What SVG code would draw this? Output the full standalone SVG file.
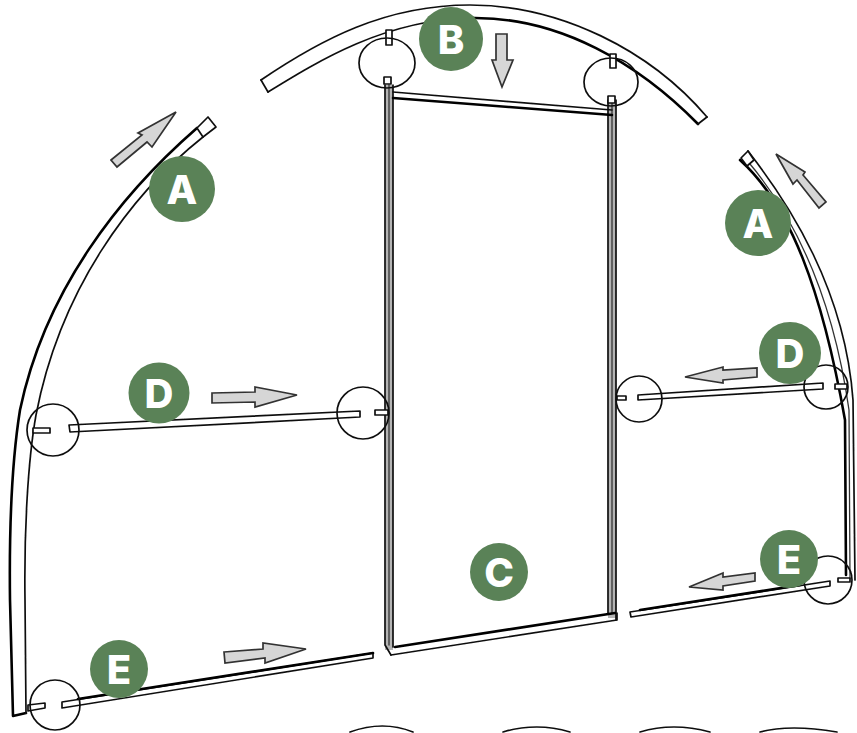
<svg xmlns="http://www.w3.org/2000/svg" width="857" height="733" viewBox="0 0 857 733">
<defs><filter id="soft" x="-5%" y="-5%" width="110%" height="110%"><feGaussianBlur stdDeviation="0.55"/></filter></defs>
<style>
.l{fill:none;stroke:#111;stroke-width:1.7;stroke-linecap:round;stroke-linejoin:round}
.t{fill:none;stroke:#000;stroke-width:2.6;stroke-linecap:round;stroke-linejoin:round}
.f{fill:none;stroke:#333;stroke-width:1.3;stroke-linecap:round}
.c{fill:none;stroke:#111;stroke-width:1.7}
.s{fill:#fff;stroke:#111;stroke-width:1.7;stroke-linejoin:round}
.a{fill:#d6d6d6;stroke:#333;stroke-width:1.7;stroke-linejoin:miter}
.b{fill:#5a8257}
.x{fill:#fff;font-family:Inter,"Open Sans","Liberation Sans",sans-serif;font-weight:800;font-size:40px;text-anchor:middle}
</style>
<rect width="857" height="733" fill="#fff"/>
<g id="frame" filter="url(#soft)">
<g id="arch-left">
<path class="t" d="M197,128C120,195 45,290 20,410C12,460 9,520 10,600L13,716L26,713"/>
<path class="l" d="M203,137C130,195 60,290 36,415C28,460 24,530 25,600L26,713"/>
<path class="s" d="M197,128L208,117L216,127L203,137Z"/>
</g>
<g id="arch-top">
<path class="l" d="M261,80C320,40 385,5 470,5C560,5 650,50 707,117"/>
<path class="l" d="M268,92C320,60 385,20 470,18"/>
<path class="t" d="M470,18C560,16 640,65 698,124"/>
<path class="l" d="M261,80L268,92M707,117L698,124"/>
</g>
<g id="arch-right">
<path class="l" d="M748,151C790,205 845,290 853,400L855,580"/>
<path class="t" d="M740,160C790,205 822,290 845,420L846,575"/>
<path class="f" d="M745,158C790,210 832,290 849,410L850,578"/>
<path class="s" d="M741,158L748,151L754,160L747,166Z"/>
</g>
<g id="door">
<rect x="385" y="85" width="8" height="565" fill="#b4b4b4"/>
<rect x="608" y="100" width="8" height="518" fill="#b4b4b4"/>
<path class="l" d="M385,85V645L391,655M393,85V647"/>
<path class="f" d="M389,85V645"/>
<path class="l" d="M608,100V613M616,100V620"/>
<path class="f" d="M612,100V613"/>
<path class="l" d="M393,92L612,110"/>
<path class="t" d="M393,98L612,115"/>
<path class="t" d="M395,647L615,613"/>
<path class="l" d="M391,655L617,620M617,613V620"/>
<path class="s" d="M384,84V77H391V84ZM608,103V96H615V103Z"/>
<path class="s" d="M386,30V45H392V30ZM610,54V68H616V54Z"/>
</g>
<g id="rods">
<path class="s" d="M69,425L360,411L360,417L70,432Z"/>
<path class="s" d="M33,428H50V433H33ZM375,410H388V415H375Z"/>
<path class="s" d="M638,395L823,383L823,389L638,400Z"/>
<path class="s" d="M617,396H626V400H617ZM835,384H847V389H835Z"/>
<path class="s" d="M62,702L373,653L373,658L62,708Z"/>
<path class="t" d="M78,699L373,653"/>
<path class="s" d="M28,705L45,703L45,708L28,711Z"/>
<path class="s" d="M630,612L830,581L830,586L631,617Z"/>
<path class="t" d="M640,610L800,585"/>
<path class="s" d="M838,578H850V582H838Z"/>
</g>
<g id="wave">
<path class="l" d="M350,732Q383,720 413,732M503,732Q537,722 570,732M640,732Q673,722 710,732M760,732Q790,724 837,732"/>
</g>
</g>
<g id="connectors" filter="url(#soft)">
<ellipse class="c" cx="387" cy="63" rx="28" ry="25"/>
<ellipse class="c" cx="611" cy="82" rx="27" ry="24"/>
<circle class="c" cx="53" cy="430" r="26"/>
<circle class="c" cx="363" cy="413" r="26"/>
<circle class="c" cx="639" cy="399" r="23"/>
<circle class="c" cx="826" cy="387" r="22"/>
<circle class="c" cx="55" cy="705" r="25"/>
<circle class="c" cx="828" cy="580" r="24"/>
<path class="a" d="M111,160L142,135L138,133L176,112L152,147L147,142L117,167Z"/>
<path class="a" d="M496,34H507V60H513L502,87L492,60H496Z"/>
<path class="a" d="M776,154L805,172L803,175L826,202L819,208L797,180L793,184Z"/>
<path class="a" d="M212,393L255,392V387L297,395L255,407V402L212,403Z"/>
<path class="a" d="M685,377L723,367V370L757,368V377L723,380V383Z"/>
<path class="a" d="M689,587L723,573V577L755,573V581L723,586V590Z"/>
<path class="a" d="M224,652L263,649V643L306,649L265,663V658L225,663Z"/>
</g>
<g id="node-a-left"><circle class="b" cx="182" cy="189" r="33"/><text class="x" x="182" y="204">A</text></g>
<g id="node-b"><circle class="b" cx="451" cy="39" r="32"/><text class="x" x="451" y="54">B</text></g>
<g id="node-a-right"><circle class="b" cx="758" cy="223" r="33"/><text class="x" x="758" y="238">A</text></g>
<g id="node-d-left"><circle class="b" cx="159" cy="393" r="30.5"/><text class="x" x="159" y="408">D</text></g>
<g id="node-d-right"><circle class="b" cx="790" cy="353" r="31"/><text class="x" x="790" y="368">D</text></g>
<g id="node-c"><circle class="b" cx="499" cy="572" r="29"/><text class="x" x="499" y="587">C</text></g>
<g id="node-e-right"><circle class="b" cx="789" cy="559" r="29"/><text class="x" x="789" y="574">E</text></g>
<g id="node-e-left"><circle class="b" cx="119" cy="669" r="29"/><text class="x" x="119" y="684">E</text></g>
</svg>
